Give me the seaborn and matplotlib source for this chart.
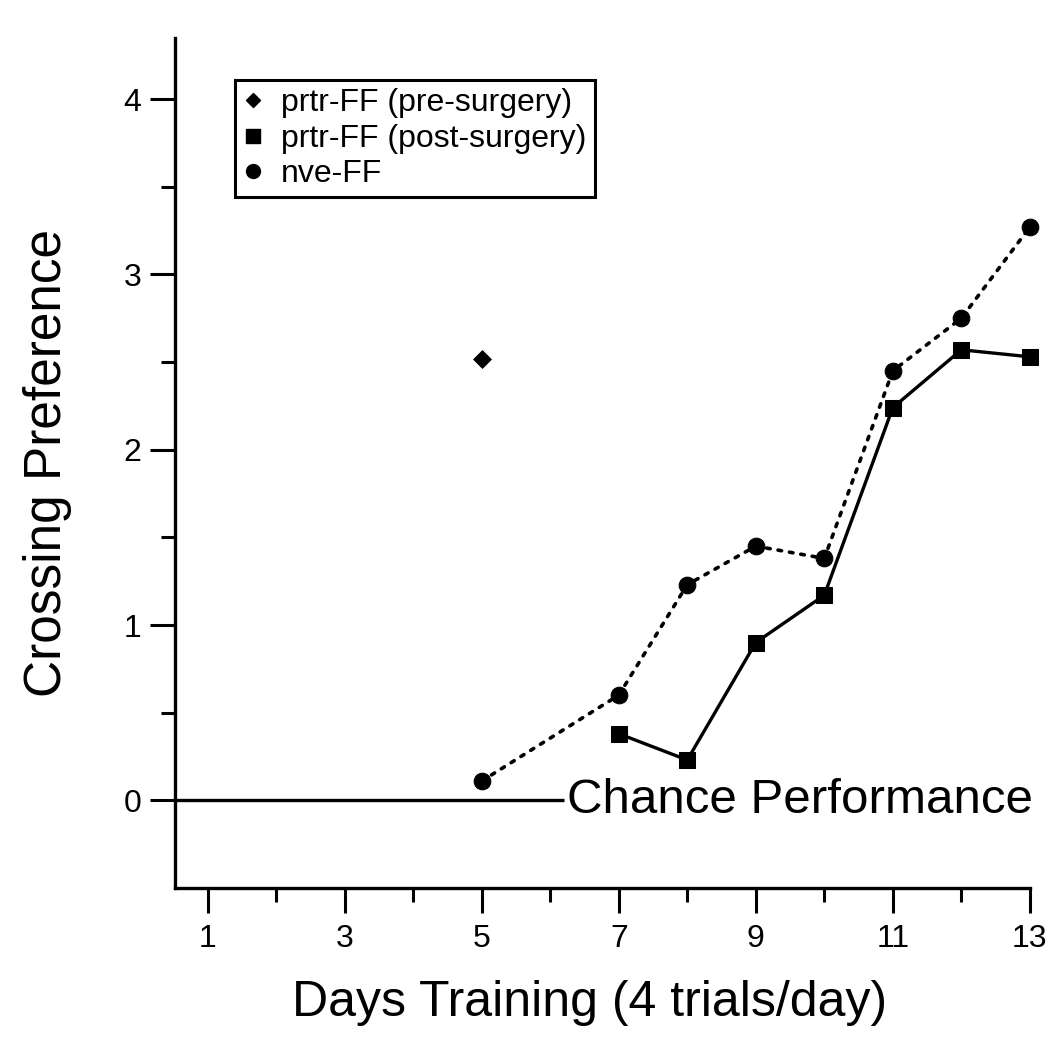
import matplotlib
matplotlib.use("Agg")
import matplotlib.pyplot as plt
from matplotlib.lines import Line2D
from matplotlib.ticker import FixedLocator
import seaborn as sns
import pandas as pd

# ---- data ----
pre_days = [5]
pre_values = [2.52]

post_days = [7, 8, 9, 10, 11, 12, 13]
post_values = [0.38, 0.23, 0.90, 1.17, 2.24, 2.57, 2.53]

nve_days = [5, 7, 8, 9, 10, 11, 12, 13]
nve_values = [0.11, 0.60, 1.23, 1.45, 1.38, 2.45, 2.75, 3.27]

legend_labels = ["prtr-FF (pre-surgery)", "prtr-FF (post-surgery)", "nve-FF"]
x_major_ticks = [1, 3, 5, 7, 9, 11, 13]
x_minor_ticks = [2, 4, 6, 8, 10, 12]
y_major_ticks = [0, 1, 2, 3, 4]
y_minor_ticks = [0.5, 1.5, 2.5, 3.5]
chance_level = 0
chance_line_end = 6.2
chance_label = "Chance Performance"
x_label = "Days Training (4 trials/day)"
y_label = "Crossing Preference"

pre_df = pd.DataFrame({"day": pre_days, "pref": pre_values})
post_df = pd.DataFrame({"day": post_days, "pref": post_values})
nve_df = pd.DataFrame({"day": nve_days, "pref": nve_values})

sns.set_style("ticks")
plt.rcParams["font.family"] = ["Liberation Sans", "DejaVu Sans"]

fig = plt.figure(figsize=(10.53, 10.49), dpi=100)
ax = fig.add_axes([0.166, 0.1535, 0.812, 0.8105])

x_lim = (0.52, 13.0)
ax.set_xlim(*x_lim)
ax.set_ylim(-0.5, 4.35)

# chance line
ax.hlines(chance_level, x_lim[0], chance_line_end, color="black", linewidth=2.4, zorder=2)
ax.text(chance_line_end + 0.04, chance_level, chance_label, va="center", ha="left",
        fontsize=35.5, color="black")

# nve-FF dotted line
sns.lineplot(data=nve_df, x="day", y="pref", ax=ax, color="black", linewidth=2.6,
             linestyle=(0, (1.0, 2.2)), marker="o", markersize=12,
             markeredgecolor="black", markerfacecolor="black", clip_on=False,
             dash_capstyle="round", zorder=3)
# post-surgery solid
sns.lineplot(data=post_df, x="day", y="pref", ax=ax, color="black", linewidth=2.4,
             linestyle="-", marker="s", markersize=11,
             markeredgecolor="black", markerfacecolor="black", clip_on=False, zorder=4)
# pre-surgery single diamond
sns.scatterplot(data=pre_df, x="day", y="pref", ax=ax, color="black", marker="D",
                s=80, edgecolor="black", zorder=4)

# axes styling
for side in ["top", "right"]:
    ax.spines[side].set_visible(False)
for side in ["left", "bottom"]:
    ax.spines[side].set_linewidth(2.4)
    ax.spines[side].set_color("black")

ax.xaxis.set_major_locator(FixedLocator(x_major_ticks))
ax.xaxis.set_minor_locator(FixedLocator(x_minor_ticks))
ax.yaxis.set_major_locator(FixedLocator(y_major_ticks))
ax.yaxis.set_minor_locator(FixedLocator(y_minor_ticks))
ax.set_xticklabels([str(t) for t in x_major_ticks])
ax.set_yticklabels([str(t) for t in y_major_ticks])

ax.tick_params(axis="both", which="major", direction="out", length=18, width=2.2,
               color="black", labelsize=23, labelcolor="black")
ax.tick_params(axis="both", which="minor", direction="out", length=10, width=2.2,
               color="black")
ax.tick_params(axis="x", which="major", pad=8)
ax.tick_params(axis="y", which="major", pad=6)

ax.set_xlabel(x_label, fontsize=36, color="black")
ax.set_ylabel(y_label, fontsize=37, color="black")
ax.xaxis.set_label_coords(0.485, -0.108)
ax.yaxis.set_label_coords(-0.12, 0.5)

handles = [
    Line2D([], [], color="black", marker="D", linestyle="none", markersize=7),
    Line2D([], [], color="black", marker="s", linestyle="none", markersize=10),
    Line2D([], [], color="black", marker="o", linestyle="none", markersize=10),
]
leg = ax.legend(handles, legend_labels, loc="upper left",
                bbox_to_anchor=(235 / 1053, 1 - 80 / 1049), bbox_transform=fig.transFigure,
                fontsize=23, frameon=True, fancybox=False, framealpha=1,
                edgecolor="black", borderpad=0.25, labelspacing=0.18,
                handlelength=0.6, handletextpad=0.6, borderaxespad=0)
leg.get_frame().set_linewidth(2.2)
for t in leg.get_texts():
    t.set_color("black")

fig.savefig("out.png", dpi=100, facecolor="white")
